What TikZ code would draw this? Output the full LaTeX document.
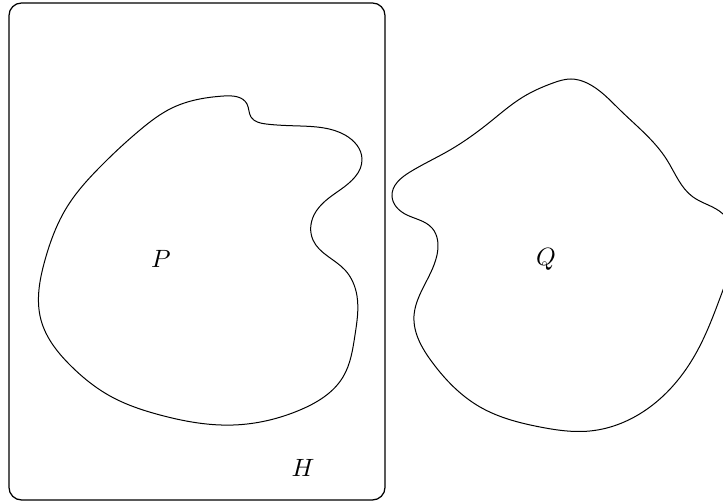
\documentclass[tikz,border=0pt]{standalone}
\usetikzlibrary{hobby}
\begin{document}
\begin{tikzpicture}[x=0.4pt,y=-0.4pt,
  blob/.style={draw=black,line width=0.4pt},
  lbl/.style={inner sep=0pt,font=\normalsize}]
\useasboundingbox (0,0) rectangle (723,504);
\clip (0,0) rectangle (723,504);
\draw[line width=0.5pt,rounded corners=5pt] (9,3) rectangle (385,500);
% P
\draw[blob] plot[closed hobby] coordinates {(224,96) (247,104) (251,117) (266,124) (300,126)
 (345,135) (362,159) (340,190) (314,215) (313,240) (345,270)
 (357,296) (355,335) (343,377) (300,410) (234,425) (160,415)
 (110,396) (71,366) (41,320) (45,260) (67,207) (100,167) (140,130) (172,108)};
% Q
\draw[blob] plot[closed hobby] coordinates {(571,79) (553,83) (523,97) (490,122) (450,150) (410,172)
 (392,196) (405,214) (432,228) (437,255) (422,290) (414,316)
 (432,362) (480,407) (540,427) (590,431) (650,407) (695,355)
 (723,290) (734,250) (723,214) (693,197) (667,160) (620,110) (587,83)};
\node[lbl] (P) at (161,259) {$P$};
\node[lbl] (Q) at (546,259) {$Q$};
\node[lbl] (H) at (303,468) {$H$};
\end{tikzpicture}
\end{document}
